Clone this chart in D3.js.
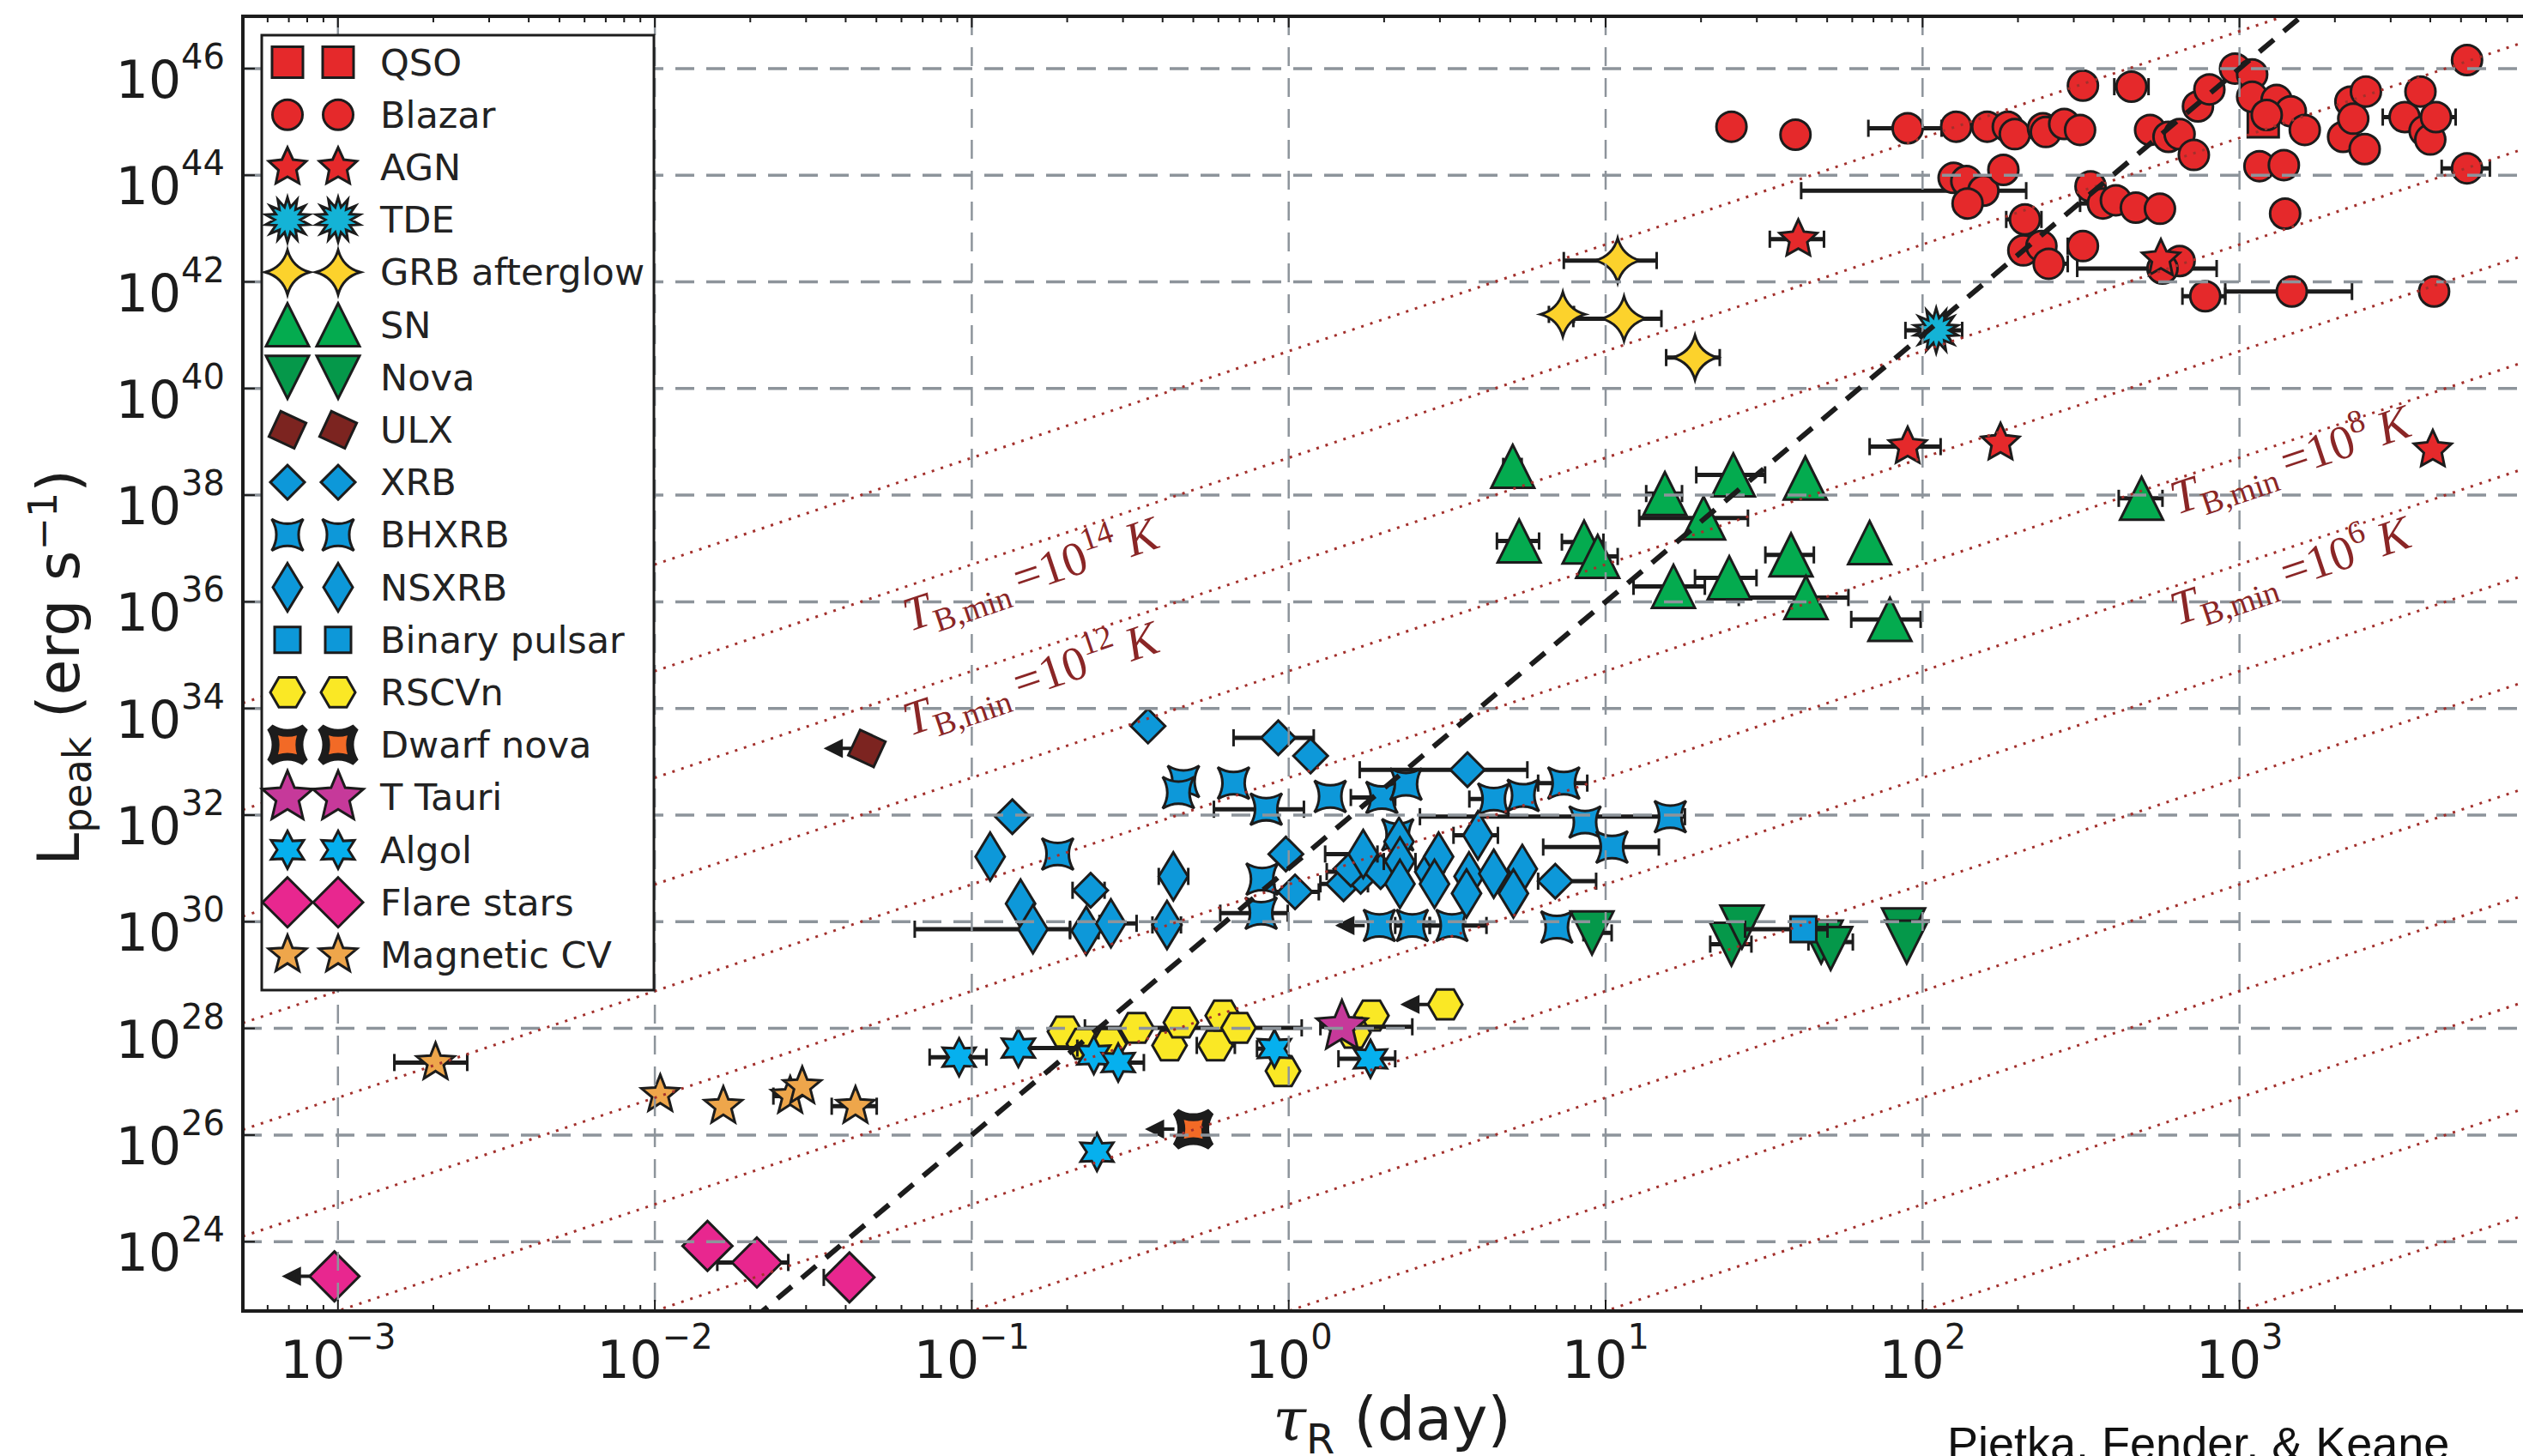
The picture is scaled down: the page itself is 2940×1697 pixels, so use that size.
<!DOCTYPE html>
<html>
<head>
<meta charset="utf-8">
<script src="https://cdn.jsdelivr.net/npm/d3@7"></script>
<style>
body { margin: 0; background: #fff; }
svg text { font-family: "DejaVu Sans", sans-serif; }
</style>
</head>
<body>
<script>
// values are log10(tau / day), log10(L_peak / erg s^-1), then log10 tau of the error bar ends
// a fifth entry of 1 marks an upper limit on tau (arrow to the left)
var qso = [[3.075, 45.0]];
var blazar = [
  [1.397,44.91],[1.599,44.76],[1.953,44.88,1.829,2.06],[2.106,44.91],[2.204,44.91],[2.269,44.91],[2.291,44.77],
  [2.380,44.88],[2.389,44.81],[2.447,44.96],[2.497,44.85],[2.506,45.68],[2.659,45.66,2.605,2.713],
  [2.718,44.85],[2.776,44.72],[2.811,44.77],[2.856,44.38],[2.869,45.29],[2.905,45.61],[2.986,46.00],
  [3.040,45.89],[3.040,45.47],[3.117,45.41],[3.162,45.20],[3.086,45.13],[3.206,44.85],[3.063,44.17],
  [3.140,44.19],[3.144,43.28],[3.327,44.72],[3.350,45.38],[3.359,45.06],[3.399,45.57],[3.395,44.49],
  [3.521,45.09,3.452,3.682],[3.571,45.57],[3.584,44.83],[3.602,44.67],[3.620,45.09],[3.718,46.16],
  [3.718,44.13,3.638,3.790],
  [2.098,43.95],[2.138,43.89],[2.192,43.71,1.617,2.327],[2.142,43.47],[2.255,44.10],
  [2.530,43.79],[2.569,43.47,2.497,null],[2.610,43.53],[2.673,43.39],[2.749,43.37],
  [2.323,43.17,2.264,2.375],[2.318,42.59],[2.375,42.67],[2.398,42.34,null,2.458],[2.506,42.67,2.458,null],
  [2.811,42.39],[2.757,42.25,2.488,2.928],[2.892,41.73,2.820,2.955],[3.165,41.82,2.955,3.355],[3.614,41.82]
];
var agn = [[1.608,42.80,1.518,1.689],[2.752,42.43],[1.953,38.91,1.833,2.057],[2.246,38.98,2.22,2.27],[3.610,38.85]];
var tde = [[2.043,41.09,1.946,2.125]];
var grb = [[1.038,42.40,0.868,1.161],[0.865,41.39,0.821,0.90],[1.058,41.31,0.898,1.176],[1.282,40.58,1.191,1.360]];
var sn = [
  [0.707,38.54,0.677,0.735],[0.727,37.14,0.657,0.790],[0.932,37.12,0.862,0.993],[0.975,36.85,0.93,1.038],
  [1.187,38.03,1.128,1.241],[1.403,38.38,1.286,1.503],[1.309,37.57,1.106,1.449],[1.214,36.29,1.088,1.313],
  [1.390,36.45,1.282,1.476],[1.630,38.32],[1.585,36.88,1.504,1.657],[1.833,37.11],[1.632,36.08,1.420,1.766],
  [1.897,35.67,1.775,1.994],[2.691,37.94,2.619,2.757]
];
var nova = [[0.957,29.79,0.93,1.019],[1.397,29.58,1.33,1.46],[1.43,29.9],[1.68,29.62,1.64,1.78],[1.71,29.5],[1.94,29.85],[1.95,29.62]];
var ulx = [[-1.331,33.25,null,null,1]];
var xrb = [
  [-0.444,33.67],[-0.033,33.45,-0.174,0.079],[0.069,33.11],[0.564,32.85,0.224,0.753],[-0.872,31.97],
  [-0.009,31.27],[0.020,30.56,-0.045,0.095],[-0.625,30.59,-0.682,-0.581],[0.841,30.76,0.787,0.970],
  [0.173,30.71,0.10,0.25],[0.227,30.85],[0.290,30.94,0.12,0.33],[0.196,30.99]
];
var bhxrb = [
  [-0.332,32.63],[-0.348,32.42],[-0.174,32.60],[-0.071,32.11,-0.236,0.048],[0.131,32.35],
  [0.294,32.33,0.196,0.336],[0.370,32.58],[0.647,32.30,0.57,0.66],[0.740,32.37],[0.868,32.60,0.787,0.942],
  [0.935,31.87],[1.020,31.40,0.803,1.168],[1.204,31.97,0.414,1.25],[-0.729,31.27],[-0.084,30.80],
  [-0.087,30.16,-0.216,-0.003],[0.344,31.63],[0.286,29.93,null,null,1],[0.390,29.93,0.336,0.445],
  [0.515,29.93,0.445,0.624],[0.846,29.90]
];
var nsxrb = [
  [-0.942,31.22],[-0.846,30.34],[-0.807,29.86,-1.180,-0.690],[-0.639,29.83,-0.69,-0.60],[-0.561,29.97,-0.597,-0.480],
  [-0.364,30.85,-0.41,-0.317],[-0.384,29.94,-0.43,-0.34],
  [0.235,31.27,0.115,0.28],[0.348,31.50],[0.351,31.13,0.30,0.40],[0.445,30.94],[0.473,31.22],[0.569,30.85],
  [0.597,31.62,0.52,0.66],[0.647,30.90],[0.737,30.99],[0.351,30.71],[0.460,30.71],[0.561,30.53],[0.709,30.53]
];
var pulsar = [[1.624,29.86,1.44,1.70]];
var rscvn = [
  [-0.706,27.94],[-0.646,27.71],[-0.566,27.71],[-0.480,28.01,-0.643,0.041],[-0.376,27.68],[-0.340,28.11],
  [-0.231,27.68,-0.29,-0.17],[-0.208,28.24],[-0.158,28.01],[-0.018,27.20],[0.261,28.24],[0.204,27.92],
  [0.494,28.45,null,null,1]
];
var dwarfNova = [[-0.301,26.11,null,null,1]];
var tTauri = [[0.168,28.03,0.10,0.39]];
var algol = [
  [-1.040,27.46,-1.133,-0.954],[-0.853,27.63,-0.87,-0.667],[-0.615,27.50],[-0.538,27.36,-0.581,-0.457],
  [-0.605,25.68],[-0.045,27.62,-0.10,-0.02],[0.258,27.43,0.157,0.336]
];
var flare = [[-3.011,23.35,null,null,1],[-1.834,23.92],[-1.678,23.61,-1.803,-1.579],[-1.386,23.33,-1.467,null]];
var magCV = [[-2.692,27.36,-2.822,-2.592],[-1.983,26.76],[-1.784,26.54],[-1.573,26.73,-1.626,null],[-1.535,26.91],[-1.367,26.54,-1.442,-1.30]];

// axis ticks (exponents)
var xTickExp = [-3, -2, -1, 0, 1, 2, 3];
var yTickExp = [24, 26, 28, 30, 32, 34, 36, 38, 40, 42, 44, 46];

// brightness temperature lines: log L = tbNorm + log T + 2 log tau
var tbNorm = 22.7;
var tbExp = [-8, -6, -4, -2, 0, 2, 4, 6, 8, 10, 12, 14, 16, 18];
// labelled lines: [exponent, log tau, log L] of label start
var tbLabels = [[14, -1.196, 35.44], [12, -1.196, 33.48], [8, 2.803, 37.63], [6, 2.803, 35.55]];
// dashed line: log L = dashNorm + dashSlope log tau
var dashNorm = 31, dashSlope = 5;

var width = 2940, height = 1697;
var plot = {left: 283, right: 2942, top: 19, bottom: 1528};

var svg = d3.select("body").append("svg")
    .attr("width", width)
    .attr("height", height);

var x = d3.scaleLog().domain([Math.pow(10, -3.3), Math.pow(10, 3.9)]).range([plot.left, plot.right]);
var y = d3.scaleLog().domain([Math.pow(10, 22.7), Math.pow(10, 46.98)]).range([plot.bottom, plot.top]);

function px(v) { return x(Math.pow(10, v)); }
function py(v) { return y(Math.pow(10, v)); }

// marker shapes, centred on 0,0
function pt(r, deg) {
    var a = deg * Math.PI / 180;
    return (r * Math.sin(a)).toFixed(2) + "," + (-r * Math.cos(a)).toFixed(2);
}
function star(n, R, r, rot) {
    var pts = [];
    for (var i = 0; i < 2 * n; i++) pts.push(pt(i % 2 ? r : R, rot + i * 180 / n));
    return "M" + pts.join("L") + "Z";
}
// four pointed star with curved, concave sides
function star4(R, c, rot) {
    var d = "M" + pt(R, rot);
    for (var i = 0; i < 4; i++) {
        d += "Q" + pt(c, rot + 45 + i * 90) + " " + pt(R, rot + 90 * (i + 1));
    }
    return d + "Z";
}
function poly(n, R, rot) {
    var pts = [];
    for (var i = 0; i < n; i++) pts.push(pt(R, rot + i * 360 / n));
    return "M" + pts.join("L") + "Z";
}
function square(s) { return "M" + (-s / 2) + "," + (-s / 2) + "h" + s + "v" + s + "h" + (-s) + "Z"; }
function circle(r) { return "M" + r + ",0A" + r + "," + r + " 0 1,1 " + (-r) + ",0A" + r + "," + r + " 0 1,1 " + r + ",0Z"; }
function tri(R, up) { var s = up ? 1 : -1; return "M0," + (-s * R) + "L" + (-R) + "," + (s * R) + "L" + R + "," + (s * R) + "Z"; }
function rhomb(w, h) { return "M0," + (-h) + "L" + w + ",0L0," + h + "L" + (-w) + ",0Z"; }

var series = [
    {name: "QSO", data: qso, fill: "#e5292b", path: square(36), half: 18},
    {name: "Blazar", data: blazar, fill: "#e5292b", path: circle(17.5), half: 18},
    {name: "AGN", data: agn, fill: "#e5292b", path: star(5, 23, 11, 0), half: 22},
    {name: "TDE", data: tde, fill: "#14b3d6", path: star(14, 26, 15, 0), half: 25},
    {name: "GRB afterglow", data: grb, fill: "#fcd22c", path: star4(26, 8, 0), half: 25},
    {name: "SN", data: sn, fill: "#04ab4f", path: tri(25, true), half: 25},
    {name: "Nova", data: nova, fill: "#05984a", path: tri(25, false), half: 25},
    {name: "ULX", data: ulx, fill: "#7c2420", path: poly(4, 23, 70), half: 18},
    {name: "XRB", data: xrb, fill: "#0d98d9", path: rhomb(20, 20), half: 20},
    {name: "BHXRB", data: bhxrb, fill: "#0d98d9", path: star4(26, 7.5, 45), half: 19},
    {name: "NSXRB", data: nsxrb, fill: "#0d98d9", path: rhomb(17, 28), half: 17},
    {name: "Binary pulsar", data: pulsar, fill: "#0d98d9", path: square(30), half: 15},
    {name: "RSCVn", data: rscvn, fill: "#fae825", path: poly(6, 20, 90), half: 20},
    {name: "Dwarf nova", data: dwarfNova, fill: "#f26a26", path: star4(28, 8, 45), half: 24, sw: 9},
    {name: "T Tauri", data: tTauri, fill: "#c6399a", path: star(5, 31, 14, 0), half: 29},
    {name: "Algol", data: algol, fill: "#06b0ee", path: star(6, 22, 12, 0), half: 19},
    {name: "Flare stars", data: flare, fill: "#e8278f", path: rhomb(29, 29), half: 29},
    {name: "Magnetic CV", data: magCV, fill: "#eea64b", path: star(5, 23, 10, 0), half: 22}
];

svg.append("defs").append("clipPath").attr("id", "clip")
  .append("rect")
    .attr("x", plot.left).attr("y", plot.top)
    .attr("width", plot.right - plot.left).attr("height", plot.bottom - plot.top);

var dataLayer = svg.append("g").attr("clip-path", "url(#clip)");
var ink = "#1c1c1c";

series.forEach(function(s) {
    var g = dataLayer.append("g");
    var withErr = s.data.filter(function(d) { return d[2] != null || d[3] != null; });

    // horizontal error bars
    g.selectAll("line.err").data(withErr).enter().append("line")
        .attr("x1", function(d) { return px(d[2] != null ? d[2] : d[0]); })
        .attr("x2", function(d) { return px(d[3] != null ? d[3] : d[0]); })
        .attr("y1", function(d) { return py(d[1]); })
        .attr("y2", function(d) { return py(d[1]); })
        .attr("stroke", ink).attr("stroke-width", 5);

    var caps = [];
    withErr.forEach(function(d) {
        if (d[2] != null) caps.push([d[2], d[1]]);
        if (d[3] != null) caps.push([d[3], d[1]]);
    });
    g.selectAll("line.cap").data(caps).enter().append("line")
        .attr("x1", function(d) { return px(d[0]); })
        .attr("x2", function(d) { return px(d[0]); })
        .attr("y1", function(d) { return py(d[1]) - 10; })
        .attr("y2", function(d) { return py(d[1]) + 10; })
        .attr("stroke", ink).attr("stroke-width", 3);

    // upper limit arrows
    var lims = s.data.filter(function(d) { return d[4]; });
    g.selectAll("path.arrow").data(lims).enter().append("path")
        .attr("d", function(d) {
            var cx = px(d[0]), cy = py(d[1]);
            var tip = cx - s.half - 28;
            return "M" + (cx - s.half + 2) + "," + cy + "L" + (tip + 12) + "," + cy +
                   "M" + tip + "," + cy + "L" + (tip + 16) + "," + (cy - 8) + "L" + (tip + 16) + "," + (cy + 8) + "Z";
        })
        .attr("stroke", ink).attr("stroke-width", 4).attr("fill", ink);

    g.selectAll("path.mk").data(s.data).enter().append("path")
        .attr("d", s.path)
        .attr("transform", function(d) { return "translate(" + px(d[0]) + "," + py(d[1]) + ")"; })
        .attr("fill", s.fill)
        .attr("stroke", ink)
        .attr("stroke-width", s.sw || 3)
        .attr("stroke-linejoin", "miter");
});

// grid (drawn over the markers, as in the original)
var grid = svg.append("g").attr("clip-path", "url(#clip)");
xTickExp.forEach(function(k) {
    grid.append("line")
        .attr("x1", x(Math.pow(10, k))).attr("x2", x(Math.pow(10, k)))
        .attr("y1", plot.top).attr("y2", plot.bottom)
        .attr("stroke", "#8d949b").attr("stroke-width", 2.5).attr("stroke-dasharray", "22,14");
});
yTickExp.forEach(function(k) {
    grid.append("line")
        .attr("x1", plot.left).attr("x2", plot.right)
        .attr("y1", y(Math.pow(10, k))).attr("y2", y(Math.pow(10, k)))
        .attr("stroke", "#8d949b").attr("stroke-width", 3.5).attr("stroke-dasharray", "22,14");
});

// brightness temperature lines
var lt0 = -3.3, lt1 = 3.9;
tbExp.forEach(function(t) {
    grid.append("line")
        .attr("x1", px(lt0)).attr("y1", py(tbNorm + t + 2 * lt0))
        .attr("x2", px(lt1)).attr("y2", py(tbNorm + t + 2 * lt1))
        .attr("stroke", "#a3302c").attr("stroke-width", 3).attr("stroke-dasharray", "3,8");
});

// dashed line
grid.append("line")
    .attr("x1", px(lt0)).attr("y1", py(dashNorm + dashSlope * lt0))
    .attr("x2", px(lt1)).attr("y2", py(dashNorm + dashSlope * lt1))
    .attr("stroke", ink).attr("stroke-width", 6).attr("stroke-dasharray", "22,15");

// T_B labels
var ang = Math.atan2(py(0) - py(2), px(1) - px(0)) * 180 / Math.PI;
tbLabels.forEach(function(l) {
    var t = svg.append("text")
        .attr("transform", "translate(" + px(l[1]) + "," + py(l[2]) + ") rotate(" + (-ang) + ")")
        .style("font-family", "'Liberation Serif', serif")
        .style("fill", "#8a2626")
        .attr("font-size", 56);
    t.append("tspan").attr("font-style", "italic").text("T");
    t.append("tspan").attr("font-size", 38).attr("dy", 11).text("B,min");
    t.append("tspan").attr("dy", -11).attr("dx", 10).text("=10");
    t.append("tspan").attr("font-size", 38).attr("dy", -24).text(l[0]);
    t.append("tspan").attr("dy", 24).attr("dx", 12).attr("font-style", "italic").text("K");
});

// spines and ticks
var axes = svg.append("g").attr("stroke", ink);
axes.append("rect")
    .attr("x", plot.left).attr("y", plot.top)
    .attr("width", plot.right - plot.left).attr("height", plot.bottom - plot.top)
    .attr("fill", "none").attr("stroke-width", 4);

for (var k = -4; k <= 3; k++) {
    for (var m = 1; m <= 9; m++) {
        var v = m * Math.pow(10, k);
        if (v < x.domain()[0] || v > x.domain()[1]) continue;
        var len = m === 1 ? 13 : 7;
        axes.append("line").attr("x1", x(v)).attr("x2", x(v))
            .attr("y1", plot.bottom).attr("y2", plot.bottom - len).attr("stroke-width", 2);
        axes.append("line").attr("x1", x(v)).attr("x2", x(v))
            .attr("y1", plot.top).attr("y2", plot.top + len).attr("stroke-width", 2);
    }
}
yTickExp.forEach(function(k) {
    axes.append("line").attr("x1", plot.left).attr("x2", plot.left + 14)
        .attr("y1", y(Math.pow(10, k))).attr("y2", y(Math.pow(10, k))).attr("stroke-width", 2);
});

// tick labels
xTickExp.forEach(function(k) {
    var t = svg.append("text")
        .attr("x", x(Math.pow(10, k))).attr("y", 1606)
        .attr("text-anchor", "middle").attr("font-size", 60).style("fill", ink);
    t.append("tspan").text("10");
    t.append("tspan").attr("font-size", 40).attr("dy", -34).text(k < 0 ? "\u2212" + (-k) : k);
});
yTickExp.forEach(function(k) {
    var t = svg.append("text")
        .attr("x", 262).attr("y", y(Math.pow(10, k)) + 34)
        .attr("text-anchor", "end").attr("font-size", 60).style("fill", ink);
    t.append("tspan").text("10");
    t.append("tspan").attr("font-size", 40).attr("dy", -34).text(k);
});

// axis labels
var xl = svg.append("text")
    .attr("x", 1622).attr("y", 1678)
    .attr("text-anchor", "middle").attr("font-size", 70).style("fill", ink);
xl.append("tspan").style("font-family", "'DejaVu Serif', serif").attr("font-style", "italic").text("\u03c4");
xl.append("tspan").attr("font-size", 48).attr("dy", 16).text("R");
xl.append("tspan").attr("dy", -16).text(" (day)");

var yl = svg.append("text")
    .attr("transform", "translate(92,778) rotate(-90)")
    .attr("text-anchor", "middle").attr("font-size", 68).style("fill", ink);
yl.append("tspan").text("L");
yl.append("tspan").attr("font-size", 46).attr("dy", 14).text("peak");
yl.append("tspan").attr("dy", -14).text(" (erg s");
yl.append("tspan").attr("font-size", 46).attr("dy", -26).text("\u22121");
yl.append("tspan").attr("dy", 26).text(")");

svg.append("text")
    .attr("x", 2269).attr("y", 1701)
    .style("font-family", "'Liberation Sans', sans-serif")
    .attr("font-size", 54).style("fill", "#111")
    .text("Pietka, Fender, & Keane");

// legend
var leg = svg.append("g");
leg.append("rect")
    .attr("x", 305).attr("y", 41).attr("width", 457).attr("height", 1113)
    .attr("fill", "#fff").attr("stroke", ink).attr("stroke-width", 3);
series.forEach(function(s, i) {
    var cy = 72.5 + i * 61.2;
    [335, 394].forEach(function(cx) {
        leg.append("path")
            .attr("d", s.path)
            .attr("transform", "translate(" + cx + "," + cy + ")")
            .attr("fill", s.fill).attr("stroke", ink).attr("stroke-width", s.sw || 3);
    });
    leg.append("text")
        .attr("x", 443).attr("y", cy + 15)
        .attr("font-size", 43).style("fill", "#222")
        .text(s.name);
});
</script>
</body>
</html>
